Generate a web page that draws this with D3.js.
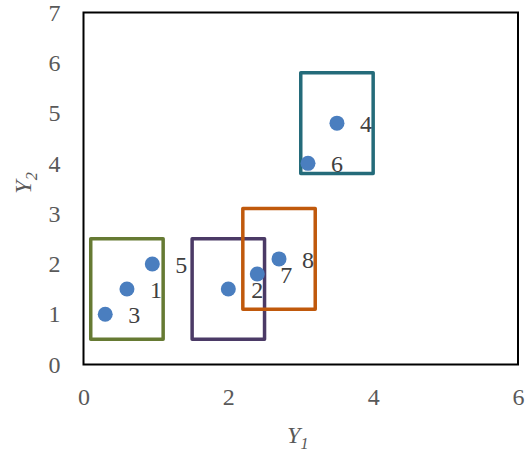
<!DOCTYPE html>
<html>
<head>
<meta charset="utf-8">
<script src="https://cdn.jsdelivr.net/npm/d3@7"></script>
<style>
  html, body { margin: 0; padding: 0; background: #fff; }
</style>
</head>
<body>
<div id="chart"></div>
<script>
// point labels and coordinates
const pointLabels = ['1', '2', '3', '4', '5', '6', '7', '8'];
const y1Values = [0.6, 2.0, 0.3, 3.5, 0.95, 3.1, 2.4, 2.7];
const y2Values = [1.5, 1.5, 1.0, 4.8, 2.0, 4.0, 1.8, 2.1];

// rectangles (cluster boxes)
const boxY1Min = [0.1, 1.5, 2.2, 3.0];
const boxY1Max = [1.1, 2.5, 3.2, 4.0];
const boxY2Min = [0.5, 0.5, 1.1, 3.8];
const boxY2Max = [2.5, 2.5, 3.1, 5.8];
const boxColors = ['#667a33', '#4b3a66', '#c0590c', '#246b7a'];

// axis ticks
const xTicks = [0, 2, 4, 6];
const yTicks = [0, 1, 2, 3, 4, 5, 6, 7];

(function() {
    const FONT = 'Liberation Serif';
    const width = 529, height = 455;
    const margin = { top: 12.5, right: 11, bottom: 90.5, left: 83.5 };
    const innerW = width - margin.left - margin.right;
    const innerH = height - margin.top - margin.bottom;

    const svg = d3.select('#chart').append('svg')
        .attr('width', width)
        .attr('height', height)
        .attr('font-family', FONT);

    const g = svg.append('g')
        .attr('transform', `translate(${margin.left},${margin.top})`);

    const x = d3.scaleLinear().domain([0, 6]).range([0, innerW]);
    const y = d3.scaleLinear().domain([0, 7]).range([innerH, 0]);

    // Plot border
    g.append('rect')
        .attr('x', 0).attr('y', 0)
        .attr('width', innerW).attr('height', innerH)
        .attr('fill', 'none')
        .attr('stroke', '#000')
        .attr('stroke-width', 2);

    // Tick labels
    const yAxis = d3.axisLeft(y).tickValues(yTicks).tickFormat(d3.format('d')).tickSize(0).tickPadding(23);
    const xAxis = d3.axisBottom(x).tickValues(xTicks).tickFormat(d3.format('d')).tickSize(0).tickPadding(23);

    const ya = g.append('g').call(yAxis);
    const xa = g.append('g').attr('transform', `translate(0,${innerH})`).call(xAxis);
    [ya, xa].forEach(function(a) {
        a.attr('font-family', FONT).attr('font-size', 24);
        a.select('.domain').remove();
        a.selectAll('text').attr('fill', '#595959');
    });

    // Boxes
    const boxes = boxY1Min.map((v, i) => ({
        x0: v, x1: boxY1Max[i], y0: boxY2Min[i], y1: boxY2Max[i], color: boxColors[i]
    }));
    g.selectAll('.box')
        .data(boxes)
        .enter()
        .append('rect')
        .attr('x', d => x(d.x0))
        .attr('y', d => y(d.y1))
        .attr('width', d => x(d.x1) - x(d.x0))
        .attr('height', d => y(d.y0) - y(d.y1))
        .attr('fill', 'none')
        .attr('stroke', d => d.color)
        .attr('stroke-width', 3.5)
        .attr('stroke-linejoin', 'round');

    // Points
    const points = pointLabels.map((l, i) => ({ label: l, x: y1Values[i], y: y2Values[i] }));
    g.selectAll('.pt')
        .data(points)
        .enter()
        .append('circle')
        .attr('cx', d => x(d.x))
        .attr('cy', d => y(d.y))
        .attr('r', 7.5)
        .attr('fill', '#4a7ebf');

    g.selectAll('.pt-label')
        .data(points)
        .enter()
        .append('text')
        .attr('x', d => x(d.x) + 29)
        .attr('y', d => y(d.y) + 9)
        .attr('text-anchor', 'middle')
        .attr('fill', '#404040')
        .attr('font-size', 24)
        .text(d => d.label);

    // Axis titles
    const xt = svg.append('text')
        .attr('x', margin.left + x(3) - 3)
        .attr('y', 443)
        .attr('text-anchor', 'middle')
        .attr('fill', '#595959')
        .attr('font-size', 24)
        .attr('font-style', 'italic');
    xt.append('tspan').text('Y');
    xt.append('tspan').attr('font-size', 16).attr('dy', 6).text('1');

    const yt = svg.append('text')
        .attr('transform', 'translate(31,183) rotate(-90)')
        .attr('text-anchor', 'middle')
        .attr('fill', '#595959')
        .attr('font-size', 24)
        .attr('font-style', 'italic');
    yt.append('tspan').text('Y');
    yt.append('tspan').attr('font-size', 16).attr('dy', 6).text('2');
})();
</script>
</body>
</html>
